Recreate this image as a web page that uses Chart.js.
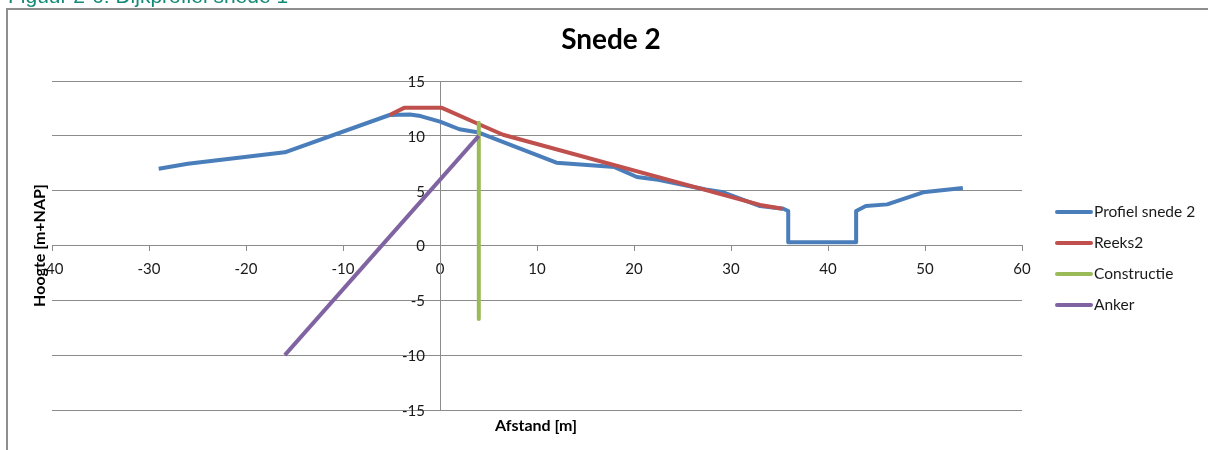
<!DOCTYPE html>
<html>
<head>
<meta charset="utf-8">
<script src="https://cdn.jsdelivr.net/npm/chart.js@4.4.1/dist/chart.umd.min.js"></script>
<style>
  html, body { margin: 0; padding: 0; background: #ffffff; }
  canvas { display: block; }
</style>
</head>
<body>
<canvas id="chart" width="1208" height="450"></canvas>
<script>
// Dike cross-section "Snede 2": distance [m] vs height [m+NAP]
const seriesNames = ['Profiel snede 2', 'Reeks2', 'Constructie', 'Anker'];
const seriesColors = ['#4a7ebb', '#c0504d', '#9bbb59', '#8064a2'];

const profielX = [-29, -26, -16, -5.2, -3.1, -2, 0, 2, 4, 12, 18, 20.3, 22.5, 27.4, 29.2, 33, 35.4, 35.9, 35.9, 42.9, 42.9, 43.9, 46.1, 49.8, 53.9];
const profielY = [7.0, 7.45, 8.5, 11.9, 11.95, 11.8, 11.3, 10.6, 10.3, 7.55, 7.15, 6.25, 6.0, 5.1, 4.85, 3.6, 3.35, 3.15, 0.3, 0.3, 3.15, 3.6, 3.75, 4.85, 5.25];

const reeks2X = [-5.2, -3.7, 0.2, 3.9, 6.5, 33, 35.3];
const reeks2Y = [11.9, 12.55, 12.55, 11.1, 10.1, 3.7, 3.35];

const constructieX = [4, 4];
const constructieY = [11.2, -6.7];

const ankerX = [-16, 4];
const ankerY = [-10, 10];

const xTicks = { min: -40, max: 60, step: 10 };
const yTicks = { min: -15, max: 15, step: 5 };

const captionText = 'Figuur 2-6: Dijkprofiel snede 1';
const titleText = 'Snede 2';
const xTitle = 'Afstand [m]';
const yTitle = 'Hoogte [m+NAP]';

const FONT = 'Lato, "Liberation Sans", Arial, sans-serif';
const GRID = '#8c8c8c';
const LABEL = '#1a1a1a';

function points(xs, ys) {
  return xs.map((x, i) => ({ x: x, y: ys[i] }));
}

const seriesData = [
  points(profielX, profielY),
  points(reeks2X, reeks2Y),
  points(constructieX, constructieY),
  points(ankerX, ankerY)
];

const datasets = seriesData.map((d, i) => ({
  label: seriesNames[i],
  data: d,
  showLine: true,
  borderColor: seriesColors[i],
  backgroundColor: seriesColors[i],
  borderWidth: 4,
  pointRadius: 0,
  pointHoverRadius: 0,
  borderJoinStyle: 'round',
  borderCapStyle: 'butt',
  tension: 0,
  fill: false,
  // later series are painted over earlier ones
  order: seriesNames.length - i
}));

// Frame, caption, title, axis titles, value-axis labels and legend
const decorPlugin = {
  id: 'decor',
  afterDraw(chart) {
    const ctx = chart.ctx;
    const area = chart.chartArea;
    const xs = chart.scales.x;
    const ys = chart.scales.y;
    ctx.save();

    // chart frame
    ctx.strokeStyle = '#8f8f8f';
    ctx.lineWidth = 2;
    ctx.beginPath();
    ctx.moveTo(7, 450);
    ctx.lineTo(7, 9);
    ctx.lineTo(1208, 9);
    ctx.stroke();

    // figure caption above the frame
    ctx.fillStyle = '#138a78';
    ctx.font = '21px "Liberation Sans", Arial, sans-serif';
    ctx.textAlign = 'left';
    ctx.textBaseline = 'alphabetic';
    ctx.fillText(captionText, 8, 3);

    // chart title
    ctx.fillStyle = '#000000';
    ctx.font = 'bold 28px ' + FONT;
    ctx.textAlign = 'center';
    ctx.fillText(titleText, 611, 49);

    // axis titles
    ctx.font = 'bold 16px ' + FONT;
    ctx.fillText(xTitle, 536, 431);
    ctx.save();
    ctx.translate(40, (area.top + area.bottom) / 2);
    ctx.rotate(-Math.PI / 2);
    ctx.textBaseline = 'middle';
    ctx.fillText(yTitle, 0, 0);
    ctx.restore();

    // value-axis labels, to the left of the vertical axis at x = 0
    const axisX = xs.getPixelForValue(0);
    ctx.font = '15px ' + FONT;
    ctx.fillStyle = LABEL;
    ctx.textAlign = 'right';
    ctx.textBaseline = 'middle';
    ys.ticks.forEach(t => {
      ctx.fillText(String(t.value), axisX - 15, ys.getPixelForValue(t.value) + 1);
    });

    // legend
    ctx.font = '15.5px ' + FONT;
    ctx.textAlign = 'left';
    ctx.textBaseline = 'middle';
    const legendTop = 212;
    const rowGap = 31;
    chart.data.datasets.forEach((ds, i) => {
      const y = legendTop + i * rowGap;
      ctx.strokeStyle = ds.borderColor;
      ctx.lineWidth = 4;
      ctx.lineCap = 'round';
      ctx.beginPath();
      ctx.moveTo(1057, y);
      ctx.lineTo(1091, y);
      ctx.stroke();
      ctx.fillStyle = LABEL;
      ctx.fillText(ds.label, 1094, y);
    });

    ctx.restore();
  }
};

new Chart(document.getElementById('chart'), {
  type: 'scatter',
  data: { datasets: datasets },
  options: {
    responsive: false,
    animation: false,
    devicePixelRatio: 1,
    layout: { padding: { left: 52, right: 186, top: 81, bottom: 40 } },
    plugins: {
      legend: { display: false },
      title: { display: false },
      tooltip: { enabled: false }
    },
    scales: {
      x: {
        type: 'linear',
        position: { y: 0 },
        min: xTicks.min,
        max: xTicks.max,
        ticks: {
          stepSize: xTicks.step,
          color: LABEL,
          font: { family: FONT, size: 15 },
          padding: 10,
          maxRotation: 0,
          autoSkip: false
        },
        grid: {
          drawOnChartArea: false,
          drawTicks: true,
          tickLength: 5,
          color: GRID,
          tickColor: GRID
        },
        border: { display: true, color: GRID, width: 1 }
      },
      y: {
        type: 'linear',
        position: { x: 0 },
        min: yTicks.min,
        max: yTicks.max,
        ticks: {
          stepSize: yTicks.step,
          display: false
        },
        grid: {
          drawOnChartArea: true,
          drawTicks: false,
          color: GRID,
          lineWidth: 1
        },
        border: { display: true, color: GRID, width: 1 }
      }
    }
  },
  plugins: [decorPlugin]
});
</script>
</body>
</html>
